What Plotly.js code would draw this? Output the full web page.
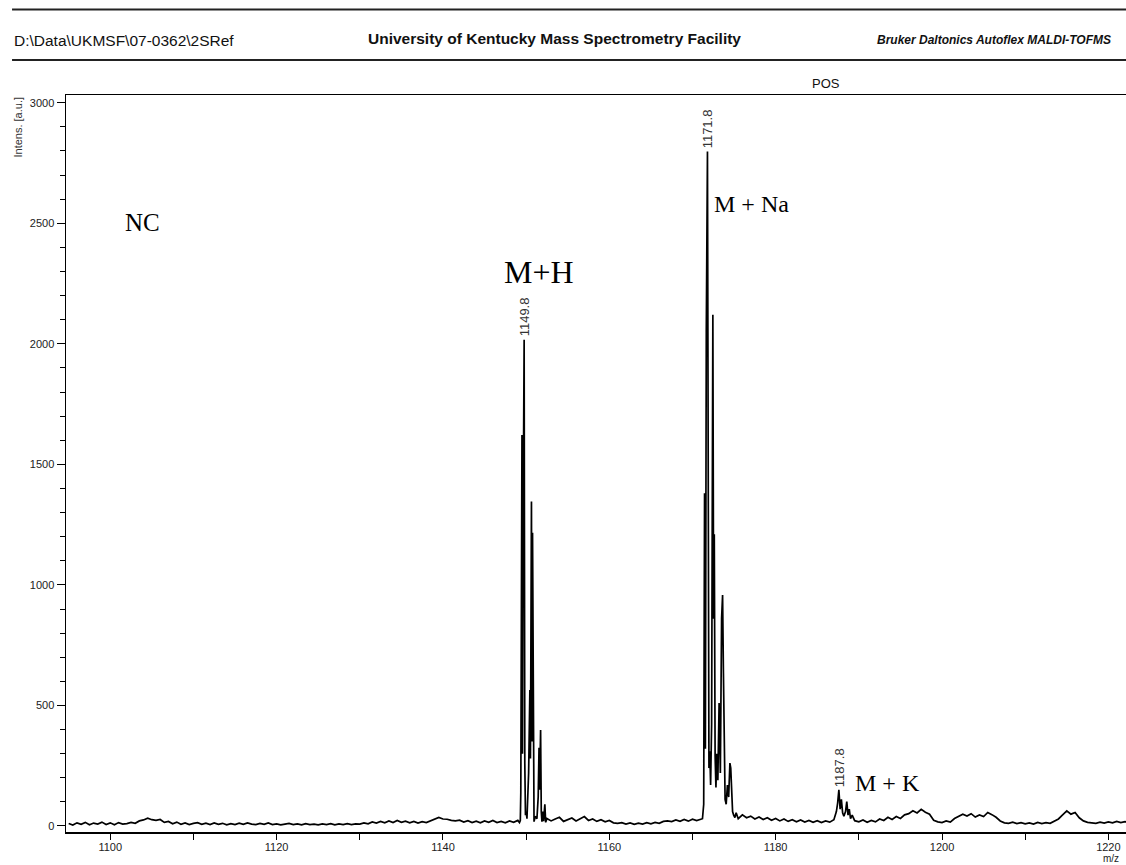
<!DOCTYPE html>
<html>
<head>
<meta charset="utf-8">
<script src="https://cdn.plot.ly/plotly-3.0.1.min.js"></script>
<style>
  html, body { margin: 0; padding: 0; background: #fff; }
  #chart { width: 1126px; height: 865px; }
</style>
</head>
<body>
<div id="chart"></div>
<script>
// ---- Spectrum data (m/z, intensity) ----
const mz = [
  1095.0,1095.5,1096.0,1096.5,1097.0,1097.5,1098.0,1098.5,1099.0,1099.5,
  1100.0,1100.5,1101.0,1101.5,1102.0,1102.5,1103.0,1103.5,1104.0,1104.5,
  1105.0,1105.5,1106.0,1106.5,1107.0,1107.5,1108.0,1108.5,1109.0,1109.5,
  1110.0,1110.5,1111.0,1111.5,1112.0,1112.5,1113.0,1113.5,1114.0,1114.5,
  1115.0,1115.5,1116.0,1116.5,1117.0,1117.5,1118.0,1118.5,1119.0,1119.5,
  1120.0,1120.5,1121.0,1121.5,1122.0,1122.5,1123.0,1123.5,1124.0,1124.5,
  1125.0,1125.5,1126.0,1126.5,1127.0,1127.5,1128.0,1128.5,1129.0,1129.5,
  1130.0,1130.5,1131.0,1131.5,1132.0,1132.5,1133.0,1133.5,1134.0,1134.5,
  1135.0,1135.5,1136.0,1136.5,1137.0,1137.5,1138.0,1138.5,1139.0,1139.5,
  1140.0,1140.5,1141.0,1141.5,1142.0,1142.5,1143.0,1143.5,1144.0,1144.5,
  1145.0,1145.5,1146.0,1146.5,1147.0,1147.5,1148.0,1148.5,1149.0,
  // M+H cluster
  1149.20,1149.30,1149.36,1149.50,1149.56,1149.62,1149.76,1149.84,1149.92,1150.00,
  1150.10,1150.30,1150.45,1150.52,1150.64,1150.70,1150.77,1150.86,1150.95,1151.10,
  1151.30,1151.45,1151.55,1151.62,1151.74,1151.82,1151.90,1152.00,1152.10,1152.25,1152.35,
  1152.5,1153.0,1153.5,1154.0,1154.5,1155.0,1155.5,1156.0,1156.5,1157.0,
  1157.5,1158.0,1158.5,1159.0,1159.5,1160.0,1160.5,1161.0,1161.5,1162.0,
  1162.5,1163.0,1163.5,1164.0,1164.5,1165.0,1165.5,1166.0,1166.5,1167.0,
  1167.5,1168.0,1168.5,1169.0,1169.5,1170.0,1170.5,1171.0,
  // M+Na cluster
  1171.20,1171.35,1171.45,1171.55,1171.66,1171.80,1171.88,1171.98,1172.08,1172.18,
  1172.30,1172.45,1172.54,1172.62,1172.72,1172.82,1172.92,1173.05,1173.20,1173.35,
  1173.50,1173.62,1173.72,1173.82,1173.92,1174.05,1174.20,1174.35,1174.50,1174.60,
  1174.70,1174.82,1174.95,1175.10,1175.25,1175.50,
  1176.0,1176.5,1177.0,1177.5,1178.0,1178.5,1179.0,1179.5,1180.0,1180.5,
  1181.0,1181.5,1182.0,1182.5,1183.0,1183.5,1184.0,1184.5,1185.0,1185.5,
  1186.0,1186.5,1187.0,
  // M+K cluster
  1187.30,1187.45,1187.60,1187.75,1187.90,1188.05,1188.20,1188.40,1188.55,1188.70,
  1188.85,1189.00,1189.20,1189.50,
  1190.0,1190.5,1191.0,1191.5,1192.0,1192.5,1193.0,1193.5,1194.0,1194.5,
  1195.0,1195.5,1196.0,1196.5,1197.0,1197.5,1198.0,1198.5,1199.0,1199.5,
  1200.0,1200.5,1201.0,1201.5,1202.0,1202.5,1203.0,1203.5,1204.0,1204.5,
  1205.0,1205.5,1206.0,1206.5,1207.0,1207.5,1208.0,1208.5,1209.0,1209.5,
  1210.0,1210.5,1211.0,1211.5,1212.0,1212.5,1213.0,1213.5,1214.0,1214.5,
  1215.0,1215.5,1216.0,1216.5,1217.0,1217.5,1218.0,1218.5,1219.0,1219.5,
  1220.0,1220.5,1221.0,1221.5,1222.0,1222.5
];
const intensity = [
  10,4,13,7,15,5,12,8,16,6,
  13,5,14,8,10,15,11,21,25,32,
  26,23,27,15,19,9,16,7,13,6,
  11,14,7,12,6,13,7,11,5,10,
  6,12,7,13,8,6,11,7,13,6,
  9,5,8,11,6,9,5,10,6,8,
  5,9,6,10,5,9,6,10,6,9,
  8,13,9,17,12,19,13,21,14,23,
  15,20,13,19,12,18,14,21,25,35,
  29,28,23,21,24,16,22,14,20,13,
  21,15,23,14,19,13,21,15,23,
  14,22,140,1622,300,1124,2017,260,45,60,
  30,220,564,280,1346,350,1216,100,18,40,
  30,120,324,150,398,60,18,60,20,90,15,
  31,21,29,36,19,27,33,21,31,39,
  23,29,19,26,17,23,13,11,14,8,
  13,7,12,8,14,9,15,11,19,21,
  18,25,19,27,20,28,22,29,
  30,90,1380,320,2050,2798,620,240,310,170,
  420,2120,860,1210,290,160,300,190,510,220,
  860,958,634,180,110,90,170,120,261,240,
  110,60,45,35,55,30,
  46,34,41,29,37,27,34,24,31,21,
  29,19,26,17,25,16,23,15,22,14,
  21,16,26,
  60,95,150,70,110,55,40,60,101,45,
  70,30,45,22,
  17,25,15,23,17,29,23,36,27,39,
  31,46,51,63,54,69,57,49,24,17,
  14,21,16,31,39,49,41,51,37,46,
  39,56,47,36,21,13,11,16,10,14,
  9,13,8,15,10,14,11,19,29,46,
  63,49,56,34,21,15,13,11,16,12,
  17,13,19,14,18,13
];

// ---- Axis ticks ----
const xTickVals = [1100, 1120, 1140, 1160, 1180, 1200, 1220];
const xMinorVals = [1110, 1130, 1150, 1170, 1190, 1210];
const yTickVals = [0, 500, 1000, 1500, 2000, 2500, 3000];

// ---- Peak labels ----
const peakMz = [1149.76, 1171.80, 1187.60];
const peakInt = [2017, 2798, 150];
const peakText = ['1149.8', '1171.8', '1187.8'];

// ---- Ion labels ----
const ionText = ['NC', 'M+H', 'M + Na', 'M + K'];
const ionMz = [1103.9, 1151.55, 1177.15, 1193.4];
const ionInt = [2505, 2298, 2578, 178];

const sans = '"Liberation Sans", Arial, sans-serif';
const serif = '"Liberation Serif", "Times New Roman", serif';

const trace = {
  type: 'scatter', mode: 'lines',
  x: mz, y: intensity,
  line: { color: '#000', width: 1.7 },
  hoverinfo: 'skip'
};

const annotations = [];
for (let i = 0; i < peakText.length; i++) {
  annotations.push({
    x: peakMz[i], y: peakInt[i], xref: 'x', yref: 'y',
    text: peakText[i], showarrow: false, textangle: -90,
    xanchor: 'center', yanchor: 'bottom', yshift: 1,
    font: { family: sans, size: 13, color: '#333' }
  });
}
const ionSizes = [25, 32, 24, 24];
for (let i = 0; i < ionText.length; i++) {
  annotations.push({
    x: ionMz[i], y: ionInt[i], xref: 'x', yref: 'y',
    text: ionText[i], showarrow: false,
    xanchor: 'center', yanchor: 'middle',
    font: { family: serif, size: ionSizes[i], color: '#000' }
  });
}
// header & misc texts (paper coords; plot area: x 66..1126, y 95..832)
annotations.push(
  { xref: 'paper', yref: 'paper', x: -0.0509, y: 1.0746, xanchor: 'left', yanchor: 'middle',
    text: 'D:\\Data\\UKMSF\\07-0362\\2SRef', showarrow: false,
    font: { family: sans, size: 15.5, color: '#111' } },
  { xref: 'paper', yref: 'paper', x: 0.4613, y: 1.0760, xanchor: 'center', yanchor: 'middle',
    text: '<b>University of Kentucky Mass Spectrometry Facility</b>', showarrow: false,
    font: { family: sans, size: 15.5, color: '#111' } },
  { xref: 'paper', yref: 'paper', x: 0.9877, y: 1.0740, xanchor: 'right', yanchor: 'middle',
    text: '<b><i>Bruker Daltonics Autoflex MALDI-TOFMS</i></b>', showarrow: false,
    font: { family: sans, size: 12, color: '#111' } },
  { xref: 'paper', yref: 'paper', x: 0.717, y: 1.016, xanchor: 'center', yanchor: 'middle',
    text: 'POS', showarrow: false,
    font: { family: sans, size: 13, color: '#111' } },
  { xref: 'paper', yref: 'paper', x: -0.0462, y: 1.0, xanchor: 'center', yanchor: 'top',
    text: 'Intens. [a.u.]', showarrow: false, textangle: -90,
    font: { family: sans, size: 11, color: '#333' } },
  { xref: 'paper', yref: 'paper', x: 0.9858, y: -0.0365, xanchor: 'center', yanchor: 'middle',
    text: 'm/z', showarrow: false,
    font: { family: sans, size: 10, color: '#222' } }
);

const shapes = [
  { type: 'line', xref: 'paper', yref: 'paper', x0: -0.0509, x1: 1.0, y0: 1.116, y1: 1.116,
    line: { color: '#222', width: 2 } },
  { type: 'line', xref: 'paper', yref: 'paper', x0: -0.0509, x1: 1.0, y0: 1.0475, y1: 1.0475,
    line: { color: '#222', width: 2 } }
];

const layout = {
  width: 1126, height: 865,
  margin: { l: 66, r: 0, t: 95, b: 33, pad: 0 },
  paper_bgcolor: '#fff', plot_bgcolor: '#fff',
  showlegend: false,
  xaxis: {
    range: [1094.68, 1222.12], showgrid: false, zeroline: false,
    showline: true, linecolor: '#000', linewidth: 1.5, mirror: true,
    ticks: 'outside', ticklen: 6, tickwidth: 1, tickcolor: '#000',
    tickmode: 'array', tickvals: xTickVals, ticktext: xTickVals.map(String),
    tickfont: { family: sans, size: 11, color: '#222' },
    ticklabelstandoff: -2,
    minor: { tickmode: 'array', tickvals: xMinorVals, ticks: 'outside', ticklen: 6, tickwidth: 1, tickcolor: '#000', showgrid: false }
  },
  yaxis: {
    range: [-25, 3032], showgrid: false, zeroline: false,
    showline: true, linecolor: '#000', linewidth: 1.5,
    ticks: 'outside', ticklen: 8, tickwidth: 1, tickcolor: '#000',
    tickmode: 'array', tickvals: yTickVals, ticktext: yTickVals.map(String),
    tickfont: { family: sans, size: 11, color: '#222' },
    minor: { dtick: 100, ticks: 'outside', ticklen: 5, tickwidth: 1, tickcolor: '#000', showgrid: false }
  },
  annotations: annotations,
  shapes: shapes
};

Plotly.newPlot('chart', [trace], layout, { staticPlot: true, displayModeBar: false });
</script>
</body>
</html>
